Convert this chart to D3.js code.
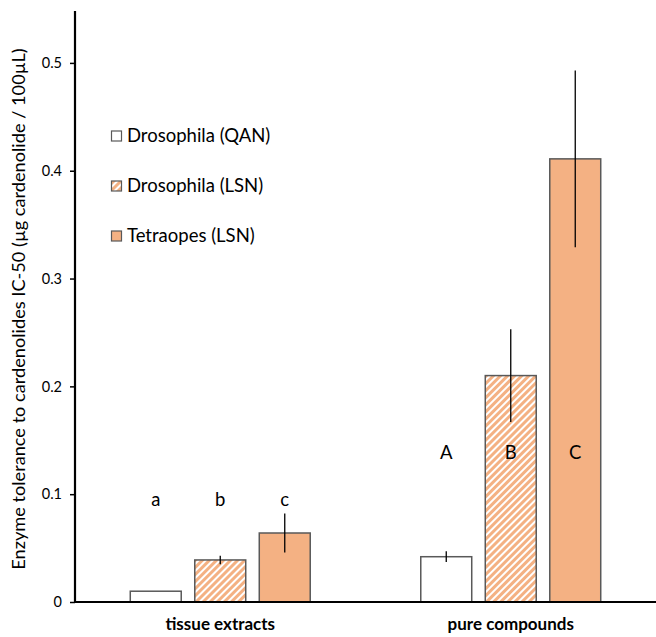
<!DOCTYPE html>
<html>
<head>
<meta charset="utf-8">
<script src="https://cdn.jsdelivr.net/npm/d3@7.9.0/dist/d3.min.js"></script>
<style>
  body { margin: 0; background: #fff; }
  svg { display: block; font-family: Lato, "Open Sans", sans-serif; }
</style>
</head>
<body>
<svg id="chart" width="656" height="637"></svg>
<script>
// data
const groups = ["tissue extracts", "pure compounds"];
const series = ["Drosophila (QAN)", "Drosophila (LSN)", "Tetraopes (LSN)"];
const tissueValues = [0.010, 0.039, 0.064];
const tissueErrors = [0.000, 0.004, 0.018];
const pureValues = [0.042, 0.210, 0.411];
const pureErrors = [0.005, 0.043, 0.082];
const tissueLetters = ["a", "b", "c"];
const pureLetters = ["A", "B", "C"];
const yTicks = [0, 0.1, 0.2, 0.3, 0.4, 0.5];

const orange = "#f4b183";
const edge = "#595959";

const svg = d3.select("#chart");

// pattern for the hatched bars
const defs = svg.append("defs");
const pat = defs.append("pattern")
    .attr("id", "hatch")
    .attr("patternUnits", "userSpaceOnUse")
    .attr("width", 5).attr("height", 5)
    .attr("patternTransform", "rotate(45)");
pat.append("rect").attr("width", 5).attr("height", 5).attr("fill", orange);
pat.append("rect").attr("x", 0).attr("width", 2).attr("height", 5).attr("fill", "#fff");

const fills = [ "#fff", "url(#hatch)", orange ];

const x0 = d3.scaleBand().domain(groups).range([75, 656]);
const x1 = d3.scaleBand().domain(series).range([-96.75, 96.75])
    .paddingInner(0.21).paddingOuter(0.105);
const y = d3.scaleLinear().domain([0, 0.55]).range([602, 9]);

const rows = [
  { group: groups[0], values: tissueValues, errors: tissueErrors, letters: tissueLetters, letterY: 0.095 },
  { group: groups[1], values: pureValues, errors: pureErrors, letters: pureLetters, letterY: 0.139 }
];

// bars
rows.forEach(r => {
  const cx = x0(r.group) + x0.bandwidth() / 2;
  const g = svg.append("g").attr("transform", `translate(${cx},0)`);
  const data = series.map((s, i) => ({ s, i, v: r.values[i], e: r.errors[i], l: r.letters[i] }));

  g.selectAll("rect.bar")
    .data(data)
    .enter().append("rect")
    .attr("class", "bar")
    .attr("x", d => x1(d.s))
    .attr("y", d => y(d.v))
    .attr("width", x1.bandwidth())
    .attr("height", d => y(0) - y(d.v))
    .attr("fill", d => fills[d.i])
    .attr("stroke", edge)
    .attr("stroke-width", 1.5);

  g.selectAll("line.err")
    .data(data.filter(d => d.e > 0))
    .enter().append("line")
    .attr("class", "err")
    .attr("x1", d => x1(d.s) + x1.bandwidth() / 2)
    .attr("x2", d => x1(d.s) + x1.bandwidth() / 2)
    .attr("y1", d => y(d.v + d.e))
    .attr("y2", d => y(d.v - d.e))
    .attr("stroke", "#000")
    .attr("stroke-width", 1.3);

  g.selectAll("text.letter")
    .data(data)
    .enter().append("text")
    .attr("class", "letter")
    .attr("x", d => x1(d.s) + x1.bandwidth() / 2)
    .attr("y", y(r.letterY))
    .attr("dy", "0.35em")
    .attr("text-anchor", "middle")
    .style("font-size", "18.5px")
    .text(d => d.l);
});

// y axis
const yAxis = d3.axisLeft(y)
    .tickValues(yTicks)
    .tickSize(5)
    .tickPadding(8)
    .tickFormat(d => d === 0 ? "0" : d3.format(".1f")(d));
const ya = svg.append("g").attr("transform", "translate(75,0)").call(yAxis);
ya.select(".domain").remove();
ya.selectAll(".tick line").attr("stroke", "#000").attr("stroke-width", 1.5);
ya.selectAll(".tick text").style("font-size", "14.5px").style("font-family", "Lato, 'Open Sans', sans-serif").attr("fill", "#000");

svg.append("line")
    .attr("x1", 75).attr("x2", 75)
    .attr("y1", y(0.55) + 2).attr("y2", y(0) + 1)
    .attr("stroke", "#000").attr("stroke-width", 2.2);

// x axis baseline and group labels
svg.append("line")
    .attr("x1", 74).attr("x2", 656)
    .attr("y1", y(0)).attr("y2", y(0))
    .attr("stroke", "#000").attr("stroke-width", 2.2);

svg.selectAll("text.grp")
  .data(groups)
  .enter().append("text")
  .attr("class", "grp")
  .attr("x", d => x0(d) + x0.bandwidth() / 2)
  .attr("y", 630)
  .attr("text-anchor", "middle")
  .style("font-size", "17px")
  .style("font-weight", "bold")
  .text(d => d);

// y title
svg.append("text")
  .attr("transform", "translate(19,309) rotate(-90)")
  .attr("text-anchor", "middle")
  .attr("dy", "0.35em")
  .style("font-size", "18.2px")
  .text("Enzyme tolerance to cardenolides IC-50 (µg cardenolide / 100µL)");

// legend
const leg = svg.append("g").attr("transform", "translate(111,136)");
const li = leg.selectAll("g")
  .data(series)
  .enter().append("g")
  .attr("transform", (d, i) => `translate(0,${i * 50})`);
li.append("rect")
  .attr("x", 0.5).attr("y", -5)
  .attr("width", 10).attr("height", 10)
  .attr("fill", (d, i) => fills[i])
  .attr("stroke", edge)
  .attr("stroke-width", 1.2);
li.append("text")
  .attr("x", 16)
  .attr("dy", "0.35em")
  .style("font-size", "18.5px")
  .text(d => d);
</script>
</body>
</html>
